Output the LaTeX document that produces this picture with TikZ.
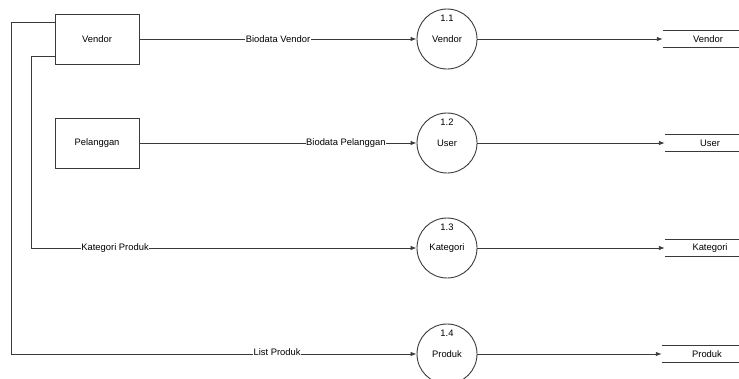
\documentclass[tikz,border=0pt]{standalone}
\usepackage{fontspec}
\setmainfont{Liberation Sans}
\usepackage{tikz}
\usetikzlibrary{arrows.meta,positioning}
\definecolor{ink}{HTML}{3A3A3A}
\newcommand{\dfdfont}{\fontsize{9.4}{11}\selectfont}
\tikzset{
  ent/.style={draw=ink, line width=0.9pt, minimum width=84pt, minimum height=50pt, font=\dfdfont},
  proc/.style={circle, draw=ink, line width=0.9pt, minimum size=60pt, inner sep=0pt, font=\dfdfont},
  store/.style={minimum width=90pt, minimum height=17pt, inner sep=0pt, font=\dfdfont},
  flow/.style={-{Latex[length=6pt,width=4.5pt]}, draw=ink, line width=0.9pt},
  wire/.style={draw=ink, line width=0.9pt},
  lbl/.style={fill=white, inner sep=0.5pt, font=\dfdfont},
}

\begin{document}
\begin{tikzpicture}[x=1pt, y=-1pt]
  \useasboundingbox (0,0) rectangle (739,378);
  % external entities
  \node[ent] (vendor) at (97,39) {Vendor};
  \node[ent] (pelanggan) at (97,143) {Pelanggan};
  % processes: number / row / name / id / store x
  \foreach \n/\y/\t/\k/\x in {1/39/Vendor/1.1/708, 2/143/User/1.2/710, 3/248/Kategori/1.3/710, 4/354/Produk/1.4/707} {
    \node[proc] (p\n) at (447,\y) {\t};
    \node[font=\dfdfont] (p\n num) at ([yshift=-10pt]p\n.north) {\k};
    % data store, open on both ends
    \node[store] (d\n) at (\x,\y) {\t};
    \draw[wire] (d\n.north west) -- (d\n.north east) (d\n.south west) -- (d\n.south east);
    \draw[flow] (p\n) -- (d\n);
  }
  % flows
  \draw[flow] (vendor) -- node[lbl, pos=0.5] {Biodata Vendor} (p1);
  \draw[flow] (pelanggan) -- node[lbl, pos=0.745] {Biodata Pelanggan} (p2);
  \coordinate (kat) at (31,56);
  \coordinate (lst) at (11,22);
  \draw[flow] ([yshift=-17pt]vendor.west) -- (kat) |- node[lbl, pos=0.609] {Kategori Produk} (p3);
  \draw[flow] ([yshift=17pt]vendor.west) -- (lst) |- node[lbl, pos=0.828, yshift=2pt] {List Produk} (p4);
\end{tikzpicture}
\end{document}
